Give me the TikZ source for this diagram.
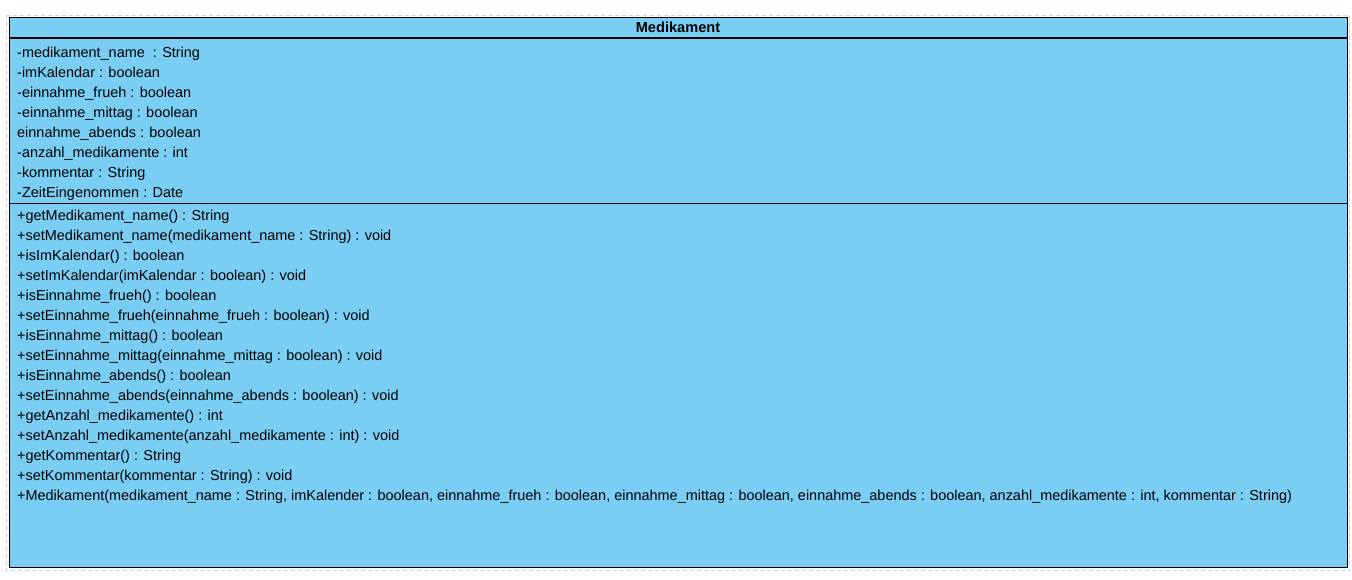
\documentclass[tikz,border=0pt]{standalone}
\usepackage{fontspec}
\setmainfont{Liberation Sans}
\definecolor{classfill}{RGB}{122,206,244}
\definecolor{selblue}{RGB}{190,215,245}
\begin{document}
\begin{tikzpicture}[x=1pt,y=-1pt,
  member/.style={anchor=base west, inner sep=0pt, font=\fontsize{14.45}{16}\selectfont},
  title/.style={anchor=base, inner sep=0pt, font=\fontsize{14.6}{16}\selectfont\bfseries},
  sep/.style={line width=1.5pt, black},
  classbox/.style={fill=classfill, draw=black, line width=1pt},
  selection/.style={draw=selblue, line width=1pt, dash pattern=on 4pt off 3pt}]
\useasboundingbox (0,0) rectangle (1352,579);
\draw[selection] (6.5,15) rectangle (1349.5,570.5);
\draw[classbox] (9,17) rectangle (1347,567);
\coordinate (h1) at (9,38);
\coordinate (h2) at (1347,38);
\coordinate (s1) at (9,203.5);
\coordinate (s2) at (1347,203.5);
\draw[sep] (h1) -- (h2);
\draw[sep] (s1) -- (s2);
\node[title] (t) at (678,32) {Medikament};
\node[member] (a1) at (17,57.5) {-medikament\_name\ \ : String};
\node[member] (a2) at (17,77.5) {-imKalendar : boolean};
\node[member] (a3) at (17,97.5) {-einnahme\_frueh : boolean};
\node[member] (a4) at (17,117.5) {-einnahme\_mittag : boolean};
\node[member] (a5) at (17,137.5) {einnahme\_abends : boolean};
\node[member] (a6) at (17,157.5) {-anzahl\_medikamente : int};
\node[member] (a7) at (17,177.5) {-kommentar : String};
\node[member] (a8) at (17,197.5) {-ZeitEingenommen : Date};
\node[member] (m1) at (17,220) {+getMedikament\_name() : String};
\node[member] (m2) at (17,240) {+setMedikament\_name(medikament\_name : String) : void};
\node[member] (m3) at (17,260) {+isImKalendar() : boolean};
\node[member] (m4) at (17,280) {+setImKalendar(imKalendar : boolean) : void};
\node[member] (m5) at (17,300) {+isEinnahme\_frueh() : boolean};
\node[member] (m6) at (17,320) {+setEinnahme\_frueh(einnahme\_frueh : boolean) : void};
\node[member] (m7) at (17,340) {+isEinnahme\_mittag() : boolean};
\node[member] (m8) at (17,360) {+setEinnahme\_mittag(einnahme\_mittag : boolean) : void};
\node[member] (m9) at (17,380) {+isEinnahme\_abends() : boolean};
\node[member] (m10) at (17,400) {+setEinnahme\_abends(einnahme\_abends : boolean) : void};
\node[member] (m11) at (17,420) {+getAnzahl\_medikamente() : int};
\node[member] (m12) at (17,440) {+setAnzahl\_medikamente(anzahl\_medikamente : int) : void};
\node[member] (m13) at (17,460) {+getKommentar() : String};
\node[member] (m14) at (17,480) {+setKommentar(kommentar : String) : void};
\node[member] (m15) at (17,500) {+Medikament(medikament\_name : String, imKalender : boolean, einnahme\_frueh : boolean, einnahme\_mittag : boolean, einnahme\_abends : boolean, anzahl\_medikamente : int, kommentar : String)};
\end{tikzpicture}
\end{document}
